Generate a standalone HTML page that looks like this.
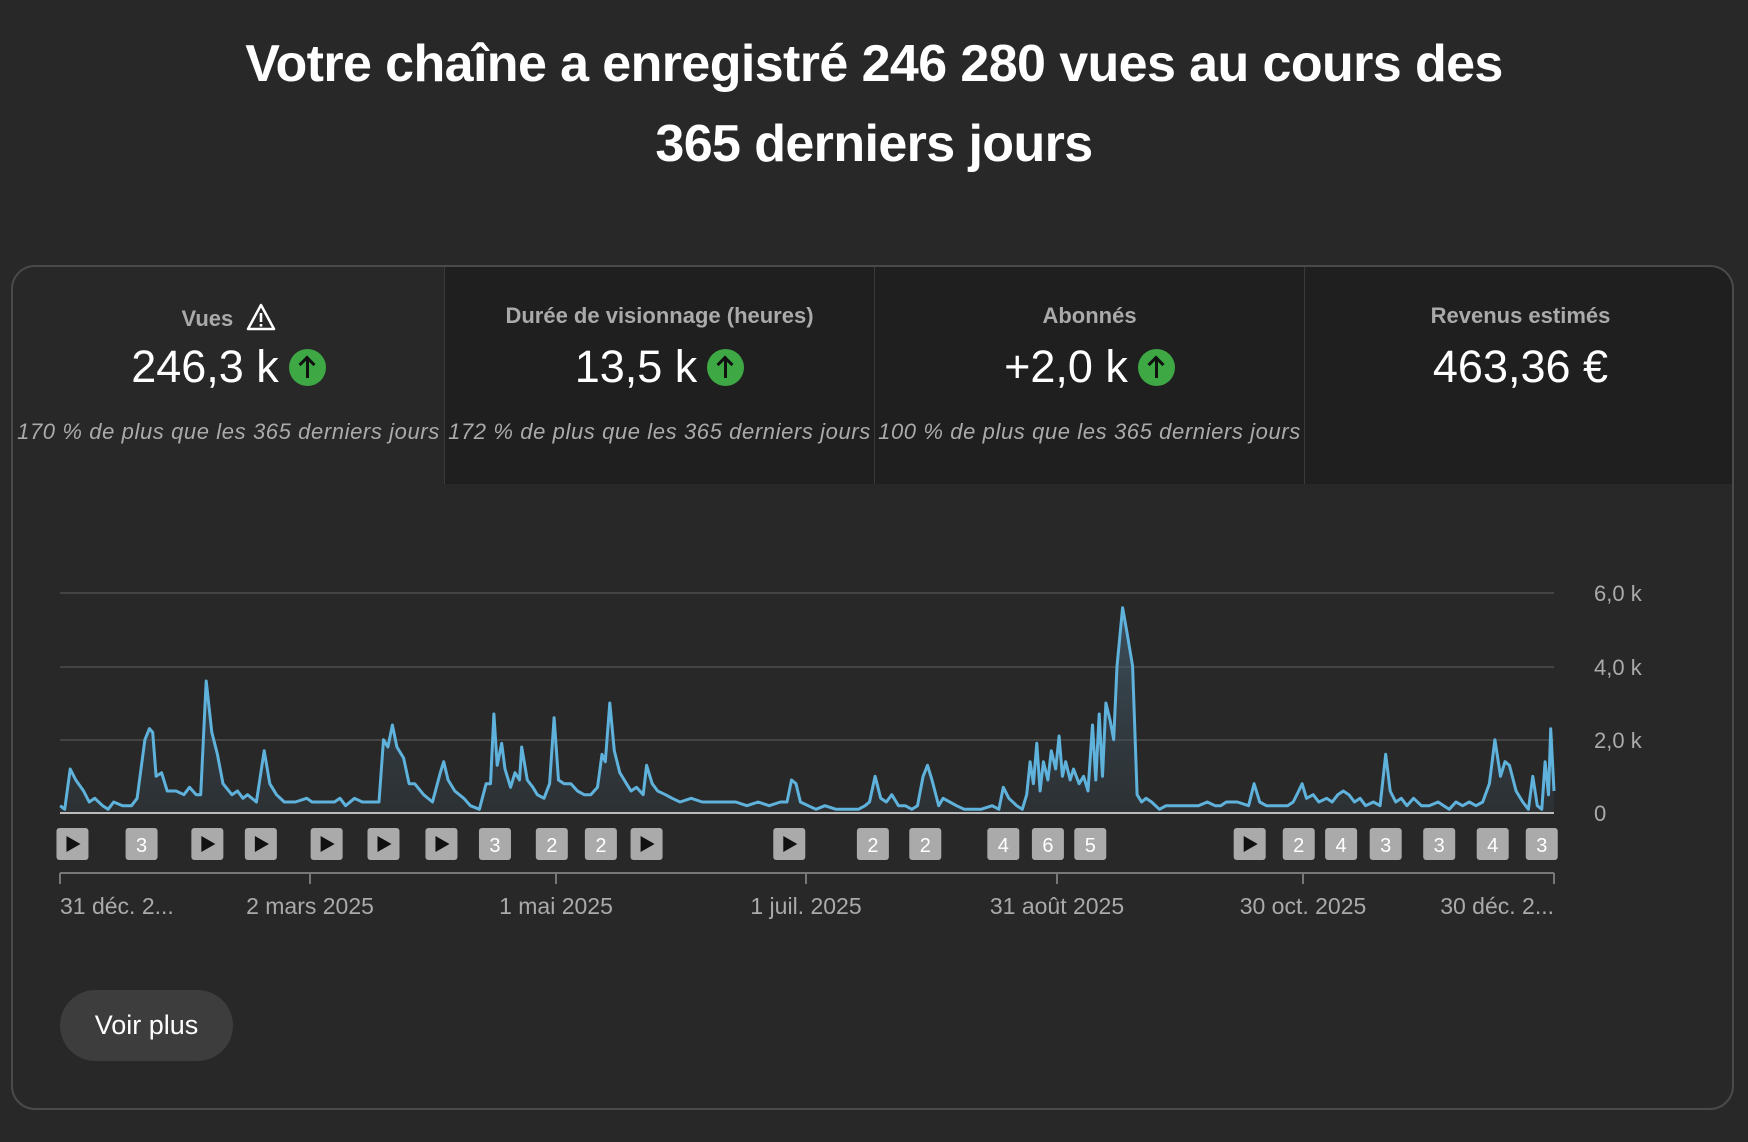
<!DOCTYPE html>
<html><head><meta charset="utf-8"><style>
*{margin:0;padding:0;box-sizing:border-box}
body{width:1748px;height:1142px;background:#282828;font-family:"Liberation Sans",sans-serif;color:#fff;position:relative;overflow:hidden}
.title{position:absolute;left:0;width:1748px;text-align:center;font-weight:bold;font-size:52px;letter-spacing:-0.6px;line-height:80px;top:24px}
.card{position:absolute;left:11px;top:265px;width:1723px;height:845px;border:2px solid #4a4a4a;border-radius:24px;overflow:hidden;background:#282828}
.tile{position:absolute;top:0;height:217px;text-align:center}
.lab{position:absolute;top:36px;width:100%;font-size:22px;color:#aaa;font-weight:bold}
.val{position:absolute;top:74px;width:100%;font-size:45px;color:#fff}
.sub{position:absolute;top:152px;width:100%;font-size:22px;color:#aaa;font-style:italic;white-space:nowrap;letter-spacing:0.6px}
.up{display:inline-block;width:37px;height:37px;border-radius:50%;background:#3ea845;vertical-align:-4px;margin-left:10px;position:relative}
.up:after{content:"";position:absolute;left:17px;top:9px;width:3px;height:20px;background:#111}
.up:before{content:"";position:absolute;left:12px;top:9px;width:9px;height:9px;border-left:3px solid #111;border-top:3px solid #111;transform:rotate(45deg)}
.btn{position:absolute;left:60px;top:990px;width:173px;height:71px;border-radius:36px;background:#3d3d3d;font-size:27px;line-height:71px;text-align:center;color:#fff}
</style></head><body>
<div class="title">Votre chaîne a enregistré 246 280 vues au cours des<br>365 derniers jours</div>
<div class="card">
 <div class="tile" style="left:0;width:431px;background:#282828">
  <div class="lab">Vues &nbsp;<svg width="30" height="28" viewBox="0 0 30 28" style="vertical-align:-5px"><path d="M15 2 L28 26 L2 26 Z" fill="none" stroke="#fff" stroke-width="2.5" stroke-linejoin="round"/><rect x="13.7" y="10" width="2.6" height="9" fill="#fff"/><rect x="13.7" y="21" width="2.6" height="2.6" fill="#fff"/></svg></div>
  <div class="val">246,3 k<span class="up"></span></div>
  <div class="sub">170 % de plus que les 365 derniers jours</div>
 </div>
 <div class="tile" style="left:431px;width:430px;background:#1f1f1f;border-left:1px solid #3a3a3a">
  <div class="lab">Durée de visionnage (heures)</div>
  <div class="val">13,5 k<span class="up"></span></div>
  <div class="sub">172 % de plus que les 365 derniers jours</div>
 </div>
 <div class="tile" style="left:861px;width:430px;background:#1f1f1f;border-left:1px solid #3a3a3a">
  <div class="lab">Abonnés</div>
  <div class="val">+2,0 k<span class="up"></span></div>
  <div class="sub">100 % de plus que les 365 derniers jours</div>
 </div>
 <div class="tile" style="left:1291px;width:432px;background:#1f1f1f;border-left:1px solid #3a3a3a">
  <div class="lab">Revenus estimés</div>
  <div class="val">463,36 €</div>
 </div>
</div>
<svg id="ch" style="position:absolute;left:0;top:0" width="1748" height="1142"></svg>
<div class="btn">Voir plus</div>
<script>
var s=1748/1568;
var d=[54,0.2,58,0.1,63,1.2,68,0.9,75,0.6,80,0.3,85,0.4,92,0.2,97,0.1,102,0.3,110,0.2,118,0.2,123,0.4,130,2.0,134,2.3,137,2.2,140,1.0,145,1.1,150,0.6,158,0.6,165,0.5,170,0.7,176,0.5,180,0.5,185,3.6,190,2.2,195,1.6,200,0.8,208,0.5,213,0.6,218,0.4,222,0.5,230,0.3,237,1.7,242,0.8,248,0.5,255,0.3,265,0.3,275,0.4,280,0.3,290,0.3,300,0.3,305,0.4,310,0.2,318,0.4,325,0.3,335,0.3,340,0.3,344,2.0,348,1.8,352,2.4,356,1.8,362,1.5,367,0.8,372,0.8,380,0.5,388,0.3,395,1.1,398,1.4,402,0.9,408,0.6,416,0.4,422,0.2,430,0.1,436,0.8,440,0.8,443,2.7,446,1.3,450,1.9,453,1.2,458,0.7,462,1.1,466,0.9,468,1.8,473,0.9,478,0.7,482,0.5,488,0.4,493,0.8,497,2.6,501,0.9,506,0.8,512,0.8,518,0.6,524,0.5,530,0.5,536,0.7,540,1.6,543,1.4,547,3.0,551,1.7,556,1.1,562,0.8,566,0.6,571,0.7,577,0.5,580,1.3,585,0.8,590,0.6,597,0.5,603,0.4,610,0.3,620,0.4,630,0.3,640,0.3,650,0.3,660,0.3,670,0.2,680,0.3,690,0.2,700,0.3,706,0.3,710,0.9,714,0.8,718,0.3,725,0.2,732,0.1,740,0.2,750,0.1,760,0.1,770,0.1,776,0.2,780,0.3,785,1.0,790,0.4,795,0.3,800,0.5,806,0.2,812,0.2,818,0.1,823,0.2,828,1.0,832,1.3,836,0.9,842,0.2,846,0.4,852,0.3,858,0.2,865,0.1,872,0.1,880,0.1,890,0.2,896,0.1,900,0.7,905,0.4,912,0.2,917,0.1,921,0.5,924,1.4,927,0.8,930,1.9,933,0.6,936,1.4,940,0.9,943,1.7,947,1.2,950,2.1,953,1.0,956,1.4,960,0.9,963,1.2,968,0.8,972,1.0,976,0.6,980,2.4,983,0.9,986,2.7,989,1.0,992,3.0,996,2.5,999,2.0,1002,4.0,1007,5.6,1011,4.9,1016,4.0,1020,0.5,1024,0.3,1028,0.4,1033,0.3,1040,0.1,1046,0.2,1055,0.2,1065,0.2,1075,0.2,1083,0.3,1090,0.2,1095,0.2,1100,0.3,1110,0.3,1120,0.2,1125,0.8,1130,0.3,1136,0.2,1145,0.2,1155,0.2,1160,0.3,1165,0.6,1168,0.8,1172,0.4,1178,0.5,1183,0.3,1190,0.4,1195,0.3,1200,0.5,1205,0.6,1210,0.5,1215,0.3,1220,0.4,1225,0.2,1232,0.3,1238,0.2,1243,1.6,1247,0.6,1252,0.3,1257,0.4,1262,0.2,1268,0.4,1275,0.2,1282,0.2,1290,0.3,1295,0.2,1300,0.1,1306,0.3,1312,0.2,1318,0.3,1324,0.2,1330,0.3,1336,0.8,1341,2.0,1346,1.0,1350,1.4,1354,1.3,1360,0.6,1366,0.3,1371,0.1,1375,1.0,1379,0.2,1383,0.1,1386,1.4,1389,0.5,1391,2.3,1394,0.6];
var y0=813,k=(813-593)/6,pts=[];
for(var i=0;i<d.length;i+=2)pts.push((d[i]*s).toFixed(1)+','+(y0-d[i+1]*k).toFixed(1));
var h='<defs><linearGradient id="g" x1="0" y1="0" x2="0" y2="1"><stop offset="0" stop-color="#4a6a80" stop-opacity="0.6"/><stop offset="1" stop-color="#3a4a55" stop-opacity="0.25"/></linearGradient></defs>';
[593,667,740].forEach(function(y){h+='<line x1="60" x2="1554" y1="'+y+'" y2="'+y+'" stroke="#444" stroke-width="2"/>';});
h+='<polygon points="60,813 '+pts.join(' ')+' 1554,813" fill="url(#g)"/>';
h+='<polyline points="'+pts.join(' ')+'" fill="none" stroke="#5fb2db" stroke-width="3" stroke-linejoin="round"/>';
h+='<line x1="60" x2="1554" y1="813" y2="813" stroke="#bbb" stroke-width="2"/>';
var yl=[['6,0 k',593],['4,0 k',667],['2,0 k',740],['0',813]];
yl.forEach(function(a){h+='<text x="1594" y="'+(a[1]+8)+'" font-size="22" fill="#aaa" font-family="Liberation Sans">'+a[0]+'</text>';});
var mk=[[65,'p'],[127,'3'],[186,'p'],[234,'p'],[293,'p'],[344,'p'],[396,'p'],[444,'3'],[495,'2'],[539,'2'],[580,'p'],[708,'p'],[783,'2'],[830,'2'],[900,'4'],[940,'6'],[978,'5'],[1121,'p'],[1165,'2'],[1203,'4'],[1243,'3'],[1291,'3'],[1339,'4'],[1383,'3']];
mk.forEach(function(m){var cx=m[0]*s;h+='<rect x="'+(cx-16)+'" y="828" width="32" height="32" rx="3" fill="#aaa"/>';
 if(m[1]=='p')h+='<path d="M'+(cx-6)+' 836 L'+(cx+8)+' 844 L'+(cx-6)+' 852 Z" fill="#111"/>';
 else h+='<text x="'+cx+'" y="852" text-anchor="middle" font-size="20" fill="#fff" font-family="Liberation Sans">'+m[1]+'</text>';});
h+='<line x1="60" x2="1554" y1="873" y2="873" stroke="#777" stroke-width="2"/>';
var tk=[[60,'31 déc. 2...','start'],[310,'2 mars 2025','middle'],[556,'1 mai 2025','middle'],[806,'1 juil. 2025','middle'],[1057,'31 août 2025','middle'],[1303,'30 oct. 2025','middle'],[1554,'30 déc. 2...','end']];
tk.forEach(function(t){h+='<line x1="'+t[0]+'" x2="'+t[0]+'" y1="873" y2="884" stroke="#777" stroke-width="2"/><text x="'+t[0]+'" y="914" text-anchor="'+t[2]+'" font-size="23" fill="#aaa" font-family="Liberation Sans">'+t[1]+'</text>';});
document.getElementById('ch').innerHTML=h;
</script>
</body></html>
